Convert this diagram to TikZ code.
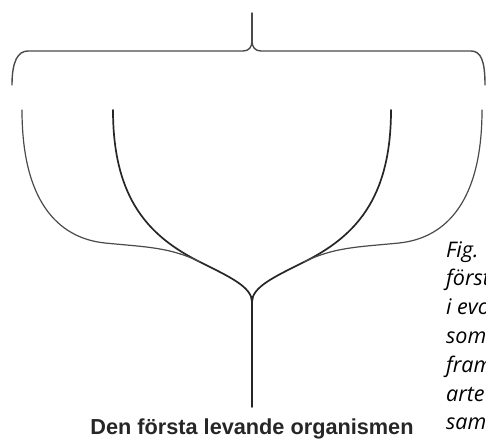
\documentclass[tikz,border=0pt]{standalone}
\usepackage{fontspec}
\setsansfont{Liberation Sans}
\newfontfamily\capfont{Open Sans}
\usetikzlibrary{positioning}
\definecolor{Ink}{HTML}{262626}
\definecolor{Twig}{HTML}{4A4A4A}
\tikzset{
  trunk/.style={draw=Ink, line width=1.7pt, line cap=round},
  twig/.style={draw=Twig, line width=1.2pt, line cap=round},
  bracket/.style={draw=Twig, line width=1.4pt, line cap=round, line join=round},
  rootlabel/.style={font=\sffamily\bfseries\fontsize{21.7}{24}\selectfont,
    text=Ink, anchor=base, inner sep=0pt},
  captionline/.style={font=\capfont\itshape\fontsize{21.5}{24}\selectfont,
    text=black, anchor=base west, inner sep=0pt}
}
\begin{document}
\begin{tikzpicture}[x=1pt,y=-1pt]
    \useasboundingbox (0,0) rectangle (486,439);
    \clip (0,0) rectangle (486,439);
    % tree
    \coordinate (cusp) at (252,302);
    \coordinate (stembase) at (252,407);
    \coordinate (lin) at (113,110);
    \coordinate (lout) at (22,110);
    \coordinate (lmid) at (200,262);
    \coordinate (lbend) at (105,243);
    \coordinate (rin) at (391,110);
    \coordinate (rout) at (482,110);
    \coordinate (rmid) at (304,262);
    \coordinate (rbend) at (399,243);
    \draw[trunk] (cusp) -- (stembase);
    \draw[trunk] (lin) .. controls +(0,90) and +(-50,-25) .. (lmid)
      .. controls +(30,15) and +(0,-15) .. (cusp);
    \draw[trunk] (rin) .. controls +(0,90) and +(50,-25) .. (rmid)
      .. controls +(-30,15) and +(0,-15) .. (cusp);
    \draw[twig] (lout) .. controls +(0,90) and +(-48,-5) .. (lbend)
      .. controls +(40,4) and +(-30,-15) .. (lmid);
    \draw[twig] (rout) .. controls +(0,90) and +(48,-5) .. (rbend)
      .. controls +(-40,4) and +(30,-15) .. (rmid);
    % brace
    \coordinate (bl) at (12,85);
    \coordinate (blc) at (28,51);
    \coordinate (bml) at (243,51);
    \coordinate (bcusp) at (252,41);
    \coordinate (bmr) at (261,51);
    \coordinate (brc) at (471,51);
    \coordinate (br) at (485,85);
    \coordinate (btip) at (252,13);
    \draw[bracket] (bl) .. controls +(0,-24) and +(-10,0) .. (blc) -- (bml)
      .. controls +(6,0) and +(0,6) .. (bcusp)
      .. controls +(0,6) and +(-6,0) .. (bmr) -- (brc)
      .. controls +(10,0) and +(0,-24) .. (br);
    \draw[bracket] (bcusp) -- (btip);
    % labels
    \node[rootlabel] (origin) at (252,434) {Den första levande organismen};
    \foreach \word [count=\i] in {Fig.,först,i evo,som,fram,arte,sam}
      \node[captionline] (cap\i) at (446,{257+(\i-1)*28.8}) {\word};
\end{tikzpicture}
\end{document}
